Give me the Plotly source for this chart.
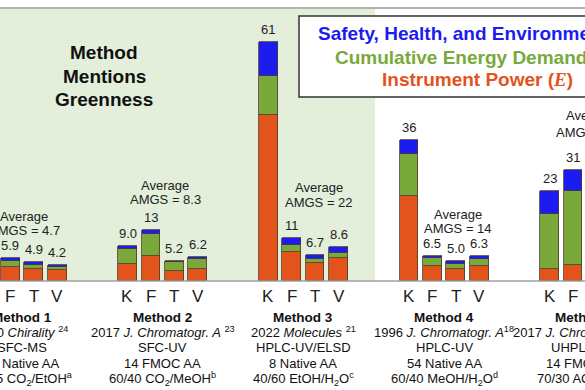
import plotly.graph_objects as go

# ---------------- data ----------------
methods = ["Method 1", "Method 2", "Method 3", "Method 4", "Method 5"]
bar_cats = ["K", "F", "T", "V"]
# group / category index of every visible bar
group_idx = [0, 0, 0, 0, 1, 1, 1, 1, 2, 2, 2, 2, 3, 3, 3, 3, 4, 4]
cat_idx = [0, 1, 2, 3, 0, 1, 2, 3, 0, 1, 2, 3, 0, 1, 2, 3, 0, 1]

power = [2.5, 3.6, 3.0, 2.7, 4.3, 6.4, 2.6, 3.0, 42.3, 7.5, 4.7, 5.9, 21.6, 3.9, 3.0, 3.7, 3.0, 4.2]
ced = [0.8, 1.4, 1.2, 0.9, 3.9, 5.6, 2.2, 2.6, 9.9, 1.8, 1.0, 1.3, 10.8, 2.0, 1.4, 1.8, 14.0, 18.7]
she = [0.5, 0.9, 0.7, 0.6, 0.8, 1.0, 0.4, 0.6, 8.8, 1.7, 1.0, 1.4, 3.6, 0.6, 0.6, 0.8, 6.0, 5.5]
total_labels = ["3.8", "5.9", "4.9", "4.2", "9.0", "13", "5.2", "6.2", "61", "11", "6.7", "8.6",
                "36", "6.5", "5.0", "6.3", "23", "31"]
avg_amgs = ["4.7", "8.3", "22", "14", "19"]

refs = ["2020 <i>Chirality</i> <sup>24</sup>",
        "2017 <i>J. Chromatogr. A</i> <sup>23</sup>",
        "2022 <i>Molecules</i> <sup>21</sup>",
        "1996 <i>J. Chromatogr. A</i><sup>18</sup>",
        "2017 <i>J. Chromatogr. A</i> <sup>22</sup>"]
techniques = ["SFC-MS", "SFC-UV", "HPLC-UV/ELSD", "HPLC-UV", "UHPLC-UV"]
analytes = ["19 Native AA", "14 FMOC AA", "8 Native AA", "54 Native AA", "14 FMOC AA"]
mobile = ["95-55 CO<sub>2</sub>/EtOH<sup>a</sup>", "60/40 CO<sub>2</sub>/MeOH<sup>b</sup>",
          "40/60 EtOH/H<sub>2</sub>O<sup>c</sup>", "60/40 MeOH/H<sub>2</sub>O<sup>d</sup>",
          "70/30 ACN/H<sub>2</sub>O<sup>e</sup>"]

legend_lines = ["Safety, Health, and Environment",
                "Cumulative Energy Demand",
                "Instrument Power (<span style=\"font-family:Liberation Serif\"><i>E</i></span>)"]

# ---------------- layout helpers ----------------
W, H = 585, 390
X0, X1 = 0.563, 25.51
Y0, Y1 = -27.81, 71.68
FONT = "Liberation Sans, Arial, Helvetica, sans-serif"

C_BLUE = "#1c1cf0"
C_GREEN = "#79a93b"
C_ORANGE = "#e2541c"

xs = [6 * g + c for g, c in zip(group_idx, cat_idx)]


def xpx(xd):
    return (xd - X0) / (X1 - X0) * W


def pxp(p):
    return p / W


def pyp(p):
    return 1 - p / H


fig = go.Figure()
line_style = dict(color="#4d3b2c", width=0.8)
for name, vals, col in [("Instrument Power (E)", power, C_ORANGE),
                        ("Cumulative Energy Demand", ced, C_GREEN),
                        ("Safety, Health, and Environment", she, C_BLUE)]:
    fig.add_trace(go.Bar(x=xs, y=vals, width=0.8, name=name,
                         marker=dict(color=col, line=line_style),
                         hoverinfo="skip"))

ann = []


def txt(x, y, t, size, color="#222", xanchor="center", yanchor="middle", bold=False):
    ann.append(dict(x=x, y=y, xref="paper", yref="paper", text=f"<b>{t}</b>" if bold else t,
                    showarrow=False, xanchor=xanchor, yanchor=yanchor,
                    font=dict(size=size, color=color, family=FONT)))


# value labels
for i, x in enumerate(xs):
    tot = power[i] + ced[i] + she[i]
    ann.append(dict(x=x, y=tot, xref="x", yref="y", text=total_labels[i], showarrow=False,
                    xanchor="center", yanchor="bottom", yshift=3,
                    font=dict(size=13, color="#222", family=FONT)))

# K F T V tick labels (for all visible bars)
for x, c in zip(xs, cat_idx):
    txt(pxp(xpx(x)), pyp(296), bar_cats[c], 17)

# method descriptions
rows = [317, 332, 347.5, 363, 378.5]
for g in range(5):
    cx = pxp(xpx(6 * g + 1.5))
    texts = [methods[g], refs[g], techniques[g], analytes[g], mobile[g]]
    for j, (t, yy) in enumerate(zip(texts, rows)):
        txt(cx, pyp(yy), t, 13.5 if j == 0 else 13, color="#111", bold=(j == 0))

# average AMGS labels
avg_pos = [(24.5, 216, 230), (165, 185, 200), (319.5, 187, 202), (458, 214, 228), (590, 115, 132)]
for g, (ax, y1, y2) in enumerate(avg_pos):
    txt(pxp(ax), pyp(y1), "Average", 13)
    txt(pxp(ax), pyp(y2), f"AMGS = {avg_amgs[g]}", 13)

# "Method Mentions Greenness"
for t, yy in zip(["Method", "Mentions", "Greenness"], [53, 77, 100]):
    txt(pxp(104), pyp(yy), t, 19, color="#111", bold=True)

# legend box text
for t, col, lx, yy in zip(legend_lines, [C_BLUE, C_GREEN, C_ORANGE], [316, 333, 380], [33, 57, 80]):
    txt(pxp(lx), pyp(yy), t, 19, color=col, xanchor="left", bold=True)

shapes = [
    # greenness background
    dict(type="rect", xref="paper", yref="paper", x0=0, x1=pxp(375), y0=pyp(281), y1=pyp(9),
         fillcolor="#e3efda", line=dict(width=0), layer="below"),
    # top rule
    dict(type="line", xref="paper", yref="paper", x0=0, x1=1, y0=pyp(8), y1=pyp(8),
         line=dict(color="#9a9a9a", width=1.5), layer="below"),
    # baseline
    dict(type="line", xref="paper", yref="y", x0=0, x1=1, y0=0, y1=0,
         line=dict(color="#a0a0a0", width=1.5), layer="above"),
    # legend box
    dict(type="rect", xref="paper", yref="paper", x0=pxp(299), x1=pxp(640), y0=pyp(97), y1=pyp(16),
         fillcolor="white", line=dict(color="#333", width=1.5), layer="above"),
]

fig.update_layout(
    width=W, height=H, margin=dict(l=0, r=0, t=0, b=0),
    paper_bgcolor="white", plot_bgcolor="rgba(0,0,0,0)",
    barmode="stack", showlegend=False, bargap=0,
    xaxis=dict(range=[X0, X1], visible=False, fixedrange=True),
    yaxis=dict(range=[Y0, Y1], visible=False, fixedrange=True),
    annotations=ann, shapes=shapes,
    font=dict(family=FONT),
)

fig.write_html("out.html", config={"displayModeBar": False},
               post_script="document.body.style.margin='0px';document.body.style.overflow='hidden';")
